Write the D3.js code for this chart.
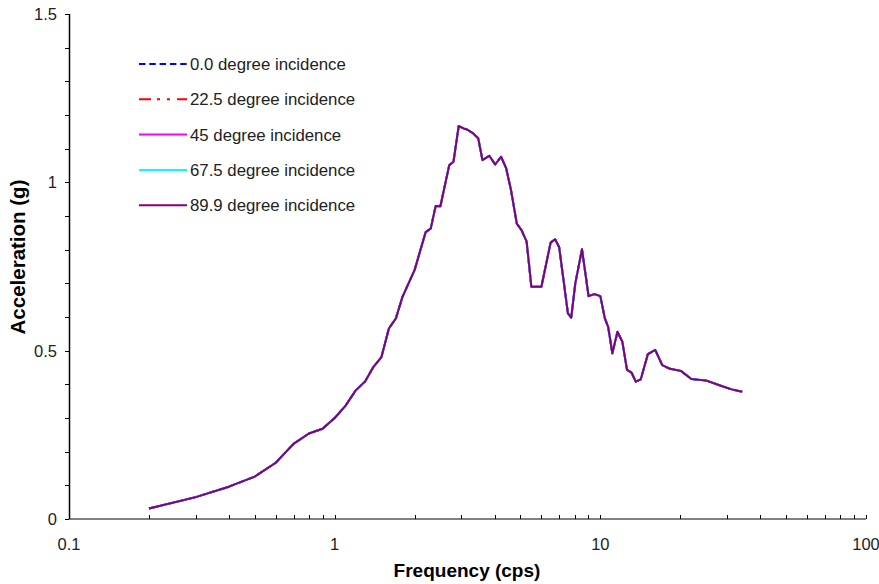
<!DOCTYPE html>
<html>
<head>
<meta charset="utf-8">
<script src="https://cdn.jsdelivr.net/npm/d3@7"></script>
<style>
	body { margin: 0; background: #fff; }
	svg text { font-family: "Liberation Sans", Arial, sans-serif; }
</style>
</head>
<body>
<svg id="chart" width="879" height="584"></svg>
<script>
// frequency (cps) and spectral acceleration (g)
var freq = [0.2, 0.3, 0.4, 0.5, 0.6, 0.7, 0.8, 0.9, 1.0, 1.1, 1.2, 1.3, 1.4, 1.5, 1.6, 1.7, 1.8,
	2.0, 2.2, 2.3, 2.4, 2.5, 2.7, 2.8, 2.93, 3.06, 3.15, 3.3, 3.47, 3.6, 3.82, 4.02, 4.23, 4.42,
	4.61, 4.85, 5.05, 5.28, 5.5, 6.0, 6.5, 6.76, 7.0, 7.55, 7.77, 8.05, 8.53, 9.03, 9.5, 10.0,
	10.4, 10.7, 11.1, 11.6, 12.1, 12.6, 13.1, 13.6, 14.2, 15.1, 16.1, 17.1, 18.3, 20.1, 22.0,
	25.1, 28.6, 31.2, 34.2];
var accel = [0.031, 0.065, 0.096, 0.126, 0.167, 0.223, 0.254, 0.268, 0.300, 0.337, 0.382, 0.408,
	0.452, 0.481, 0.566, 0.596, 0.660, 0.740, 0.852, 0.863, 0.930, 0.929, 1.051, 1.061, 1.167,
	1.160, 1.157, 1.147, 1.131, 1.066, 1.079, 1.053, 1.076, 1.042, 0.977, 0.877, 0.858, 0.824,
	0.690, 0.690, 0.821, 0.831, 0.807, 0.611, 0.598, 0.700, 0.801, 0.662, 0.668, 0.662, 0.596,
	0.571, 0.492, 0.556, 0.527, 0.443, 0.435, 0.408, 0.415, 0.490, 0.502, 0.457, 0.446, 0.440,
	0.416, 0.411, 0.395, 0.385, 0.378];

var seriesNames = ["0.0 degree incidence", "22.5 degree incidence", "45 degree incidence",
	"67.5 degree incidence", "89.9 degree incidence"];
var seriesColors = ["#0000ff", "#ff0000", "#ff00ff", "#00ffff", "#800080"];
var seriesDash = ["6.5,3.8", "12,6,3,7,3,7", null, null, null];
// the five incidence angles give practically the same curve
var seriesValues = [accel, accel, accel, accel, accel];

var yTicks = [0, 0.5, 1, 1.5];
var xTicks = [0.1, 1, 10, 100];

var svg = d3.select('#chart');
var padL = 69, padR = 866, padT = 14, padB = 519;

var x = d3.scaleLog().domain([0.1, 100]).range([padL, padR]);
var y = d3.scaleLinear().domain([0, 1.5]).range([padB, padT]);

// x axis: grey base line, small black ticks pointing up
svg.append('line')
	.attr('x1', padL).attr('x2', padR)
	.attr('y1', padB).attr('y2', padB)
	.attr('stroke', '#808080').attr('stroke-width', 2);

var minor = [];
for (var d = 0.1; d < 100; d *= 10) {
	for (var k = 1; k < 10; k++) minor.push(d * k);
}
minor.push(100);
svg.append('g').selectAll('line').data(minor).enter().append('line')
	.attr('x1', function (d) { return Math.round(x(d)) + 0.5; })
	.attr('x2', function (d) { return Math.round(x(d)) + 0.5; })
	.attr('y1', padB).attr('y2', padB - 4)
	.attr('stroke', '#000').attr('stroke-width', 1);

svg.append('g').selectAll('text').data(xTicks).enter().append('text')
	.attr('x', function (d) { return x(d); })
	.attr('y', padB + 31)
	.attr('text-anchor', 'middle')
	.style('font-size', '16.5px')
	.style('fill', '#222')
	.text(function (d) { return d; });

// y axis: black line with ticks every 0.1 on the outside
svg.append('line')
	.attr('x1', padL + 0.5).attr('x2', padL + 0.5)
	.attr('y1', padT).attr('y2', padB)
	.attr('stroke', '#000').attr('stroke-width', 1.5);

svg.append('g').selectAll('line').data(d3.range(0, 16)).enter().append('line')
	.attr('x1', padL - 4).attr('x2', padL)
	.attr('y1', function (d) { return Math.round(y(d / 10)) + 0.5; })
	.attr('y2', function (d) { return Math.round(y(d / 10)) + 0.5; })
	.attr('stroke', '#000').attr('stroke-width', 1);

svg.append('g').selectAll('text').data(yTicks).enter().append('text')
	.attr('x', padL - 12)
	.attr('y', function (d) { return y(d) + 6; })
	.attr('text-anchor', 'end')
	.style('font-size', '16.5px')
	.style('fill', '#222')
	.text(function (d) { return d; });

// axis titles
svg.append('text')
	.attr('x', 467).attr('y', 577)
	.attr('text-anchor', 'middle')
	.style('font-size', '19px').style('font-weight', 'bold')
	.text('Frequency (cps)');

svg.append('text')
	.attr('transform', 'translate(25,' + 257 + ') rotate(-90)')
	.attr('text-anchor', 'middle')
	.style('font-size', '20.5px').style('font-weight', 'bold')
	.text('Acceleration (g)');

// curves
var line = d3.line()
	.x(function (d) { return x(d[0]); })
	.y(function (d) { return y(d[1]); });

seriesValues.forEach(function (vals, i) {
	var pts = freq.map(function (f, j) { return [f, vals[j]]; });
	svg.append('path')
		.datum(pts)
		.attr('d', line)
		.attr('fill', 'none')
		.attr('stroke', seriesColors[i])
		.attr('stroke-width', 2)
		.attr('stroke-dasharray', seriesDash[i])
		.attr('stroke-linejoin', 'round');
});

// legend
var legend = svg.append('g');
seriesNames.forEach(function (name, i) {
	var ly = 64 + i * 35.3;
	legend.append('line')
		.attr('x1', 139).attr('x2', 187)
		.attr('y1', ly).attr('y2', ly)
		.attr('stroke', seriesColors[i])
		.attr('stroke-width', 2)
		.attr('stroke-dasharray', seriesDash[i]);
	legend.append('text')
		.attr('x', 190).attr('y', ly + 6)
		.style('font-size', '16.8px')
		.style('fill', '#222')
		.text(name);
});
</script>
</body>
</html>
